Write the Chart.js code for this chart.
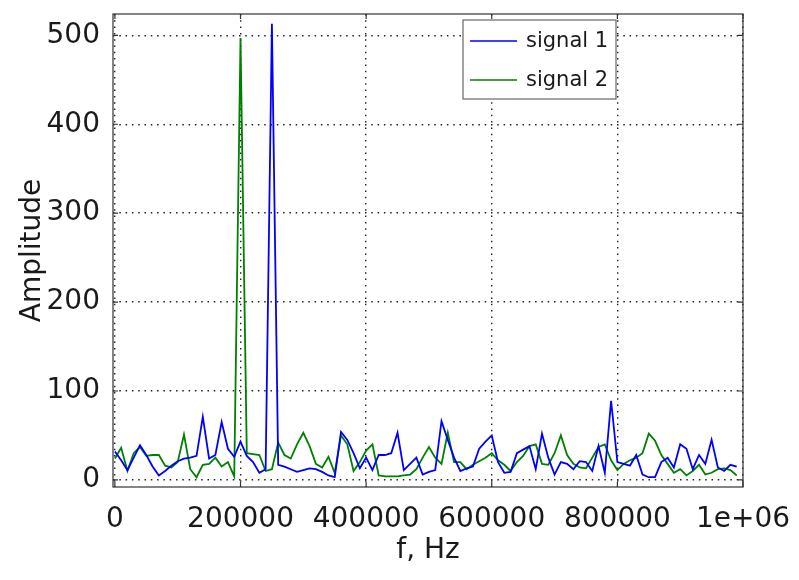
<!DOCTYPE html>
<html>
<head>
<meta charset="utf-8">
<script src="https://cdn.jsdelivr.net/npm/chart.js@4.4.1/dist/chart.umd.min.js"></script>
<style>
  html, body { margin: 0; padding: 0; background: #fff; }
  #wrap { width: 799px; height: 580px; }
</style>
</head>
<body>
<div id="wrap"><canvas id="spectrum" width="799" height="580"></canvas></div>
<script>
// frequency bins (Hz)
const freqs = [
  0, 10000, 20000, 30000, 40000, 50000, 60000, 70000, 80000, 90000,
  100000, 110000, 120000, 130000, 140000, 150000, 160000, 170000, 180000, 190000,
  200000, 210000, 220000, 230000, 240000, 250000, 260000, 270000, 280000, 290000,
  300000, 310000, 320000, 330000, 340000, 350000, 360000, 370000, 380000, 390000,
  400000, 410000, 420000, 430000, 440000, 450000, 460000, 470000, 480000, 490000,
  500000, 510000, 520000, 530000, 540000, 550000, 560000, 570000, 580000, 590000,
  600000, 610000, 620000, 630000, 640000, 650000, 660000, 670000, 680000, 690000,
  700000, 710000, 720000, 730000, 740000, 750000, 760000, 770000, 780000, 790000,
  800000, 810000, 820000, 830000, 840000, 850000, 860000, 870000, 880000, 890000,
  900000, 910000, 920000, 930000, 940000, 950000, 960000, 970000, 980000, 990000
];

const signal1 = [
  32, 22, 11, 25, 39, 28, 15, 5, 10, 16,
  21, 24, 25, 27, 71, 24, 28, 65, 35, 26,
  43, 27, 20, 8, 12, 513, 17, 15, 12, 9,
  11, 13, 12, 9, 5, 3, 54, 45, 30, 13,
  25, 11, 28, 28, 30, 53, 11, 18, 25, 6,
  9, 11, 66, 45, 25, 10, 13, 15, 35, 43,
  50, 20, 8, 9, 30, 34, 38, 12, 52, 25,
  6, 20, 18, 12, 21, 20, 10, 38, 8, 89,
  20, 18, 16, 28, 6, 3, 3, 20, 25, 14,
  40, 35, 12, 28, 18, 45, 14, 10, 17, 15
];

const signal2 = [
  24, 36, 10, 30, 37, 27, 28, 28, 16, 14,
  20, 51, 12, 3, 17, 18, 25, 15, 20, 4,
  497, 30, 29, 28, 10, 12, 42, 28, 24, 40,
  53, 38, 18, 14, 26, 8, 50, 40, 10, 20,
  33, 40, 5, 4, 4, 4, 5, 6, 12, 25,
  37, 25, 18, 53, 20, 20, 12, 17, 21, 25,
  30, 22, 17, 10, 20, 27, 38, 40, 18, 17,
  30, 50, 28, 18, 14, 13, 25, 37, 40, 22,
  11, 18, 22, 25, 30, 52, 44, 28, 18, 8,
  12, 5, 10, 17, 6, 8, 12, 13, 11, 5
];

const seriesNames = ['signal 1', 'signal 2'];
const seriesColors = ['#0000ff', '#008000'];
const xTickValues = [0, 200000, 400000, 600000, 800000, 1000000];
const yTickValues = [0, 100, 200, 300, 400, 500];

const FONT = 'DejaVu Sans';
const TEXT = '#1a1a1a';

function toPoints(ys) {
  return ys.map((y, i) => ({ x: freqs[i], y: y }));
}

// frame, inward ticks and the legend box
const framePlugin = {
  id: 'frame',
  afterDatasetsDraw(chart) {
    const ctx = chart.ctx;
    const a = chart.chartArea;
    const xs = chart.scales.x;
    const ys = chart.scales.y;
    ctx.save();
    ctx.strokeStyle = '#333';
    ctx.lineWidth = 1.2;
    ctx.setLineDash([]);
    ctx.strokeRect(a.left, a.top, a.right - a.left, a.bottom - a.top);

    ctx.beginPath();
    xTickValues.forEach(v => {
      const px = xs.getPixelForValue(v);
      ctx.moveTo(px, a.bottom); ctx.lineTo(px, a.bottom - 5);
      ctx.moveTo(px, a.top); ctx.lineTo(px, a.top + 5);
    });
    yTickValues.forEach(v => {
      const py = ys.getPixelForValue(v);
      ctx.moveTo(a.left, py); ctx.lineTo(a.left + 5, py);
      ctx.moveTo(a.right, py); ctx.lineTo(a.right - 5, py);
    });
    ctx.stroke();

    // legend
    const bx = 463, by = 20, bw = 153, bh = 79;
    ctx.fillStyle = '#fff';
    ctx.fillRect(bx, by, bw, bh);
    ctx.strokeStyle = '#666';
    ctx.lineWidth = 1.2;
    ctx.strokeRect(bx, by, bw, bh);
    ctx.font = '21px "' + FONT + '"';
    ctx.textBaseline = 'middle';
    ctx.textAlign = 'left';
    chart.data.datasets.forEach((ds, i) => {
      const ly = by + 21 + i * 39;
      ctx.strokeStyle = ds.borderColor;
      ctx.lineWidth = 1.5;
      ctx.beginPath();
      ctx.moveTo(bx + 7, ly); ctx.lineTo(bx + 54, ly);
      ctx.stroke();
      ctx.fillStyle = TEXT;
      ctx.fillText(ds.label, bx + 63, ly + 1);
    });
    ctx.restore();
  }
};

new Chart(document.getElementById('spectrum').getContext('2d'), {
  type: 'line',
  data: {
    datasets: seriesNames.map((name, i) => ({
      label: name,
      data: toPoints(i === 0 ? signal1 : signal2),
      borderColor: seriesColors[i],
      backgroundColor: seriesColors[i],
      borderWidth: 1.8,
      pointRadius: 0,
      tension: 0,
      fill: false
    }))
  },
  options: {
    responsive: false,
    animation: false,
    layout: { padding: { top: 14, right: 56, left: 0, bottom: 0 } },
    plugins: {
      legend: { display: false },
      tooltip: { enabled: false }
    },
    scales: {
      x: {
        type: 'linear',
        min: -3000,
        max: 1000000,
        afterBuildTicks(scale) { scale.ticks = xTickValues.map(v => ({ value: v })); },
        afterFit(scale) {
          scale.height = 93;
          scale.paddingLeft = 0;
          scale.paddingRight = 0;
        },
        ticks: {
          autoSkip: false,
          maxRotation: 0,
          padding: 16,
          color: TEXT,
          font: { family: FONT, size: 28 },
          callback: v => (v === 1000000 ? '1e+06' : String(v))
        },
        grid: {
          color: '#222',
          lineWidth: 1.4,
          drawTicks: false
        },
        border: { display: false, dash: [1.5, 4.8] },
        title: {
          display: true,
          text: 'f, Hz',
          color: TEXT,
          font: { family: FONT, size: 28 },
          padding: { top: 0, bottom: 12 }
        }
      },
      y: {
        type: 'linear',
        min: -8,
        max: 524,
        afterBuildTicks(scale) { scale.ticks = yTickValues.map(v => ({ value: v })); },
        afterFit(scale) {
          scale.width = 113;
          scale.paddingTop = 0;
          scale.paddingBottom = 0;
        },
        ticks: {
          padding: 13,
          color: TEXT,
          font: { family: FONT, size: 28 }
        },
        grid: {
          color: '#222',
          lineWidth: 1.4,
          drawTicks: false
        },
        border: { display: false, dash: [1.5, 4.8] },
        title: {
          display: true,
          text: 'Amplitude',
          color: TEXT,
          font: { family: FONT, size: 28 },
          padding: { top: 16, bottom: 0 }
        }
      }
    }
  },
  plugins: [framePlugin]
});
</script>
</body>
</html>
